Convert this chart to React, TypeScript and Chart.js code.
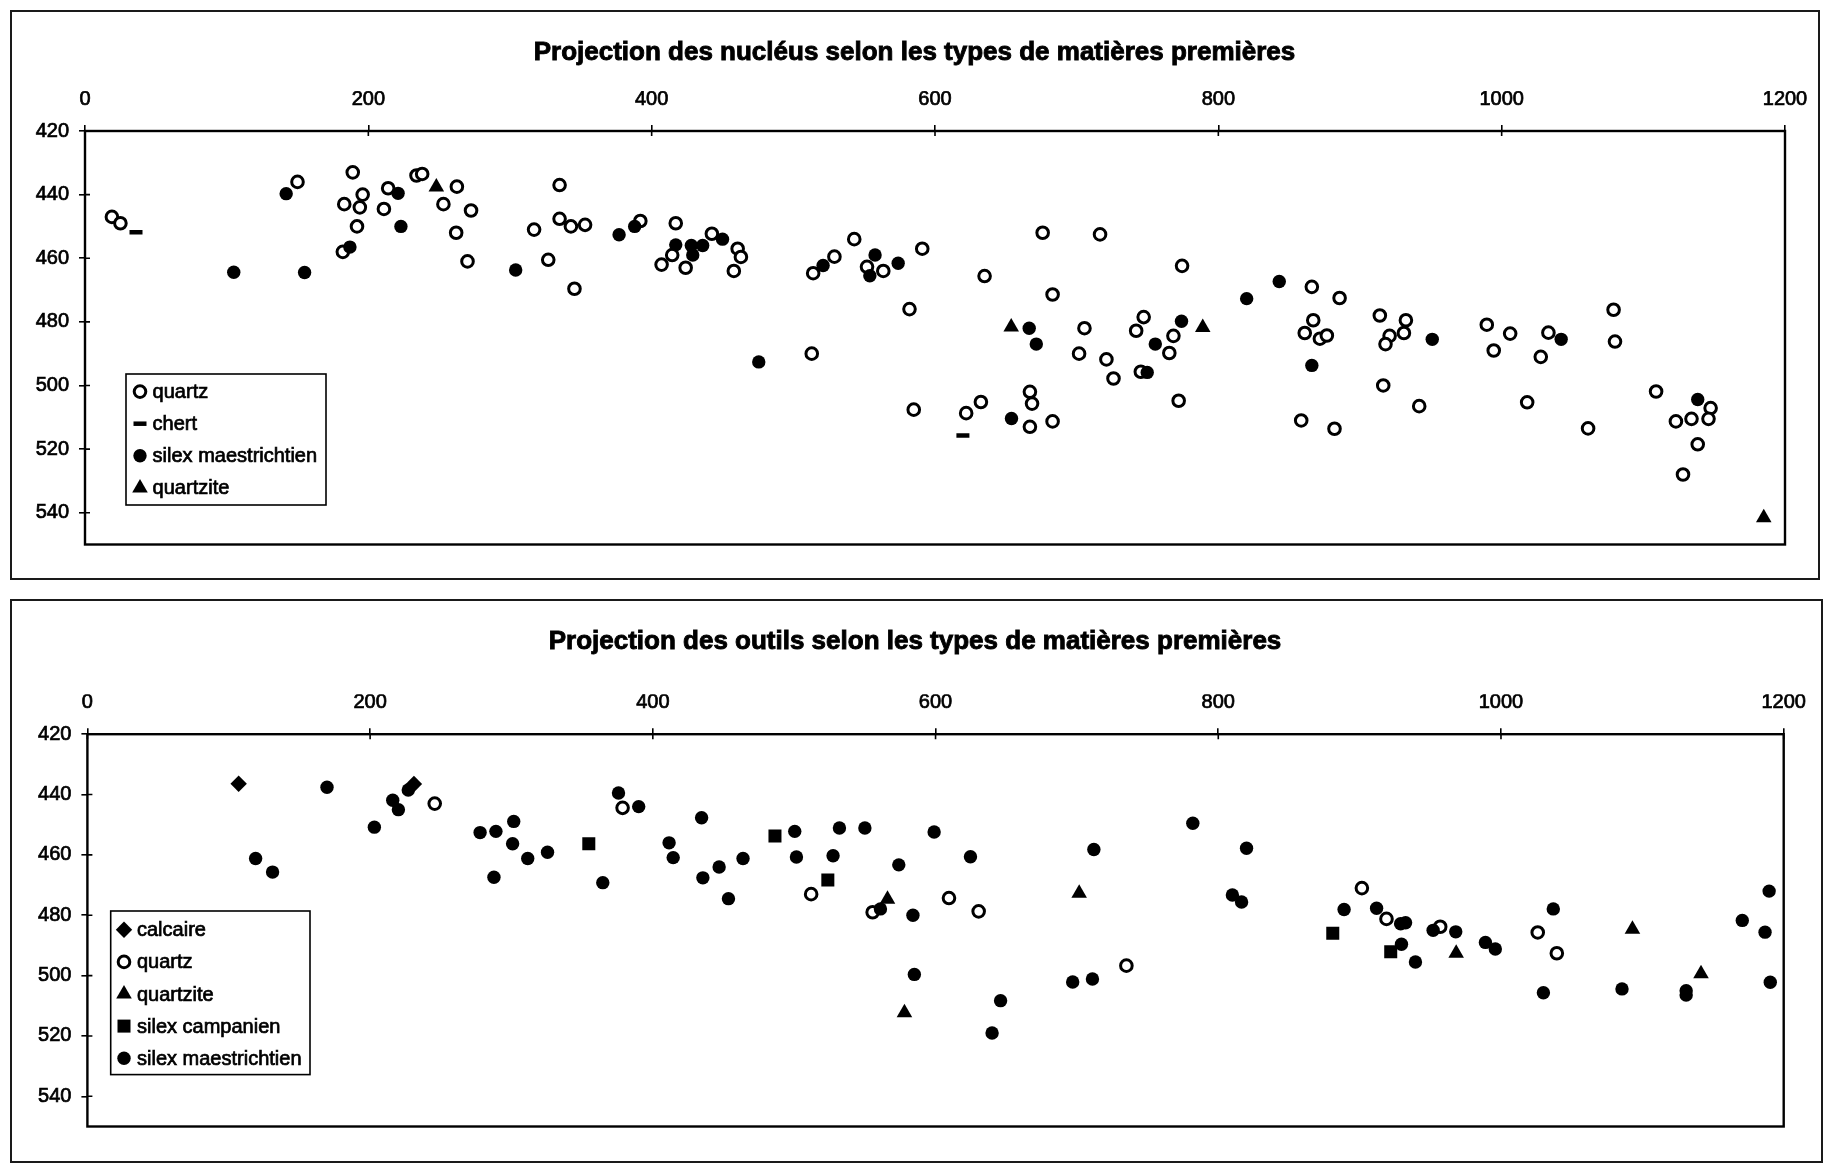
import { useEffect, useRef } from 'react';
import { Chart, registerables } from 'chart.js';

Chart.register(...registerables);

type Pt = [number, number];

// ---------- axes ----------
const xTickValues = [0, 200, 400, 600, 800, 1000, 1200];
const yTickValues = [420, 440, 460, 480, 500, 520, 540];
const xRange = [0, 1200];
const yRange = [420, 550];

const titleNuclei = 'Projection des nucléus selon les types de matières premières';
const titleOutils = 'Projection des outils selon les types de matières premières';

// ---------- nucléus ----------
const nucleiQuartz: Pt[] = [
  [19, 447], [25, 449], [150, 436], [182, 458], [183, 443], [189, 433], [192, 450], [194, 444], [196, 440],
  [211, 444.5], [214, 438], [234, 434], [238, 433.5], [253, 443], [262.5, 437.5], [262, 452], [272.5, 445],
  [270, 461], [317, 451], [327, 460.5], [335, 437], [335, 447.6], [343, 450], [345.5, 469.6], [353, 449.5],
  [392, 448.3], [407, 462], [414.5, 459], [417, 449], [424, 463], [442.5, 452.3], [460.7, 457], [458, 464],
  [463, 459.6], [513, 490], [514, 464.7], [529, 459.5], [543, 454], [552, 462.7], [563.5, 464], [582, 476],
  [585, 507.6], [591, 457], [635, 465.6], [676, 452], [716.5, 452.5], [683, 471.4], [774.4, 462.4], [866, 469],
  [885.6, 472.5], [705.5, 482], [701.7, 490], [721, 491.8], [726, 497.8], [742, 482.8], [747.3, 478.5],
  [745.3, 495.7], [765.4, 489.8], [768.3, 484.4], [772, 504.8], [622, 508.7], [632.4, 505.2], [667, 502],
  [668.5, 505.7], [667, 513], [683, 511.3], [867, 479.5], [861, 483.5], [871.7, 485.3], [876.6, 484.3],
  [858.5, 511], [882, 513.6], [914, 478], [932.4, 479.5], [920.9, 484.4], [918, 487], [931, 483.5], [916.4, 500],
  [941.8, 506.5], [989.5, 480.9], [994.4, 489], [1006, 483.7], [1033, 483.4], [1027.6, 491], [1018, 505.3],
  [1061, 513.5], [1079, 476.2], [1080, 486.2], [1109, 501.9], [1147.5, 507.1], [1146, 510.5], [1134, 510.5],
  [1123, 511.3], [1138.4, 518.5], [1128, 528],
];
const nucleiChert: Pt[] = [[36, 451.8], [619.7, 515.7]];
const nucleiSilexMaes: Pt[] = [
  [105, 464.4], [142, 439.7], [155, 464.5], [187, 456.5], [221, 439.6], [223, 450], [304, 463.7], [377, 452.6],
  [388, 450], [417, 455.8], [428, 456], [429, 459], [436, 456], [450, 454], [475.6, 492.6], [521, 462.3],
  [557.7, 459], [554, 465.5], [574, 461.6], [843, 467.3], [820, 472.7], [666.5, 482], [671.5, 487], [755.5, 487],
  [749.8, 495.9], [774, 479.8], [654, 510.4], [866, 493.7], [951, 485.5], [1042, 485.5], [1138.4, 504.4],
];
const nucleiQuartzite: Pt[] = [[248, 437.6], [653.8, 481.6], [789, 481.8], [1185, 541.6]];

// ---------- outils ----------
const outilsCalcaire: Pt[] = [[107, 436.4], [231, 436.5]];
const outilsQuartz: Pt[] = [
  [245.7, 443], [378.6, 444.4], [512, 473], [555.5, 479], [609.5, 474.3], [630.5, 478.7], [735, 496.7],
  [901.6, 471], [919, 481.2], [957, 483.8], [1026, 485.7], [1039.5, 492.6],
];
const outilsQuartzite: Pt[] = [[566, 474.7], [578, 512.3], [701.6, 472.7], [968.3, 492.6], [1093, 484.6], [1141.5, 499.4]];
const outilsSilexCamp: Pt[] = [[354.7, 456.3], [486.4, 453.7], [523.8, 468.3], [881, 486], [922, 492.1]];
const outilsSilexMaes: Pt[] = [
  [119, 461.2], [131, 465.7], [169.5, 437.6], [203, 450.8], [216, 441.9], [220, 445], [227, 438.5], [277.8, 452.6],
  [289, 452.2], [301.6, 448.9], [300.8, 456.3], [287.6, 467.4], [311.5, 461.2], [325.5, 459.1], [364.6, 469.2],
  [375.7, 439.5], [390, 444], [411.5, 456], [414.4, 460.9], [434.5, 447.7], [435.4, 467.6], [446.9, 464],
  [453.5, 474.5], [463.8, 461.2], [500.4, 452.2], [501.6, 460.7], [527.5, 460.3], [532, 451.1], [550, 451.1],
  [574, 463.3], [561, 477.9], [584, 480], [585, 499.6], [599, 452.4], [624.7, 460.6], [646, 508.3], [640, 519],
  [712, 458.2], [697, 502.1], [711, 501.1], [782, 449.5], [820, 457.8], [810, 473.3], [816.5, 475.6], [889, 478.1],
  [912, 477.7], [932.5, 482.5], [929, 482.8], [929.6, 489.6], [939.5, 495.5], [952, 485], [968, 485.5], [989, 489],
  [996, 491.2], [1037, 477.9], [1030, 505.7], [1085.6, 504.4], [1131, 505], [1131, 506.4], [1170.7, 481.7],
  [1189.7, 472], [1186.8, 485.6], [1190.5, 502.2],
];

// ---------- marker styles ----------
type MarkerStyle = { style: string; r: number; bw: number; fill: string; stroke: string };
const openCircle: MarkerStyle = { style: 'circle', r: 5.8, bw: 3, fill: '#ffffff', stroke: '#000000' };
const dash: MarkerStyle = { style: 'line', r: 6.5, bw: 4.5, fill: '#000000', stroke: '#000000' };
const dot: MarkerStyle = { style: 'circle', r: 6.7, bw: 0, fill: '#000000', stroke: '#000000' };
const tri: MarkerStyle = { style: 'triangle', r: 9, bw: 0, fill: '#000000', stroke: '#000000' };
const diamond: MarkerStyle = { style: 'rectRot', r: 8.2, bw: 0, fill: '#000000', stroke: '#000000' };
const square: MarkerStyle = { style: 'rect', r: 9.2, bw: 0, fill: '#000000', stroke: '#000000' };

const FONT = "'Liberation Sans', Arial, Helvetica, sans-serif";

function drawMarker(ctx: CanvasRenderingContext2D, m: MarkerStyle, x: number, y: number) {
  ctx.save();
  ctx.fillStyle = m.fill;
  ctx.strokeStyle = m.stroke;
  ctx.lineWidth = m.bw;
  ctx.beginPath();
  const r = m.r;
  if (m.style === 'circle') {
    ctx.arc(x, y, r, 0, Math.PI * 2);
  } else if (m.style === 'triangle') {
    for (let i = 0; i < 3; i++) {
      const a = (i * 2 * Math.PI) / 3;
      const px = x + Math.sin(a) * r;
      const py = y - Math.cos(a) * r;
      if (i === 0) ctx.moveTo(px, py); else ctx.lineTo(px, py);
    }
    ctx.closePath();
  } else if (m.style === 'rect') {
    const s = r * Math.SQRT1_2;
    ctx.rect(x - s, y - s, 2 * s, 2 * s);
  } else if (m.style === 'rectRot') {
    ctx.moveTo(x, y - r);
    ctx.lineTo(x + r, y);
    ctx.lineTo(x, y + r);
    ctx.lineTo(x - r, y);
    ctx.closePath();
  } else if (m.style === 'line') {
    ctx.moveTo(x - r, y);
    ctx.lineTo(x + r, y);
  }
  if (m.style !== 'line') ctx.fill();
  if (m.bw > 0) ctx.stroke();
  ctx.restore();
}

const framePlugin = {
  id: 'frame',
  beforeDatasetsDraw(chart: any) {
    const { ctx, chartArea: a, scales } = chart;
    ctx.save();
    ctx.strokeStyle = '#000';
    ctx.lineWidth = 2.4;
    ctx.strokeRect(a.left, a.top, a.right - a.left, a.bottom - a.top);
    ctx.lineWidth = 1.6;
    ctx.beginPath();
    scales.x.ticks.forEach((t: any) => {
      const px = scales.x.getPixelForValue(t.value);
      ctx.moveTo(px, a.top);
      ctx.lineTo(px, a.top + 5);
    });
    scales.y.ticks.forEach((t: any) => {
      const py = scales.y.getPixelForValue(t.value);
      ctx.moveTo(a.left, py);
      ctx.lineTo(a.left + 5, py);
    });
    ctx.stroke();
    ctx.restore();
  },
};

const panelTitlePlugin = {
  id: 'panelTitle',
  afterDraw(chart: any, _args: any, opts: any) {
    const { ctx } = chart;
    ctx.save();
    ctx.font = `bold 26px ${FONT}`;
    ctx.textAlign = 'center';
    ctx.textBaseline = 'middle';
    ctx.fillStyle = '#000';
    ctx.strokeStyle = '#000';
    ctx.lineWidth = 0.9;
    ctx.fillText(opts.text, opts.x, opts.y);
    ctx.strokeText(opts.text, opts.x, opts.y);
    ctx.restore();
  },
};

const boxLegendPlugin = {
  id: 'boxLegend',
  afterDraw(chart: any, _args: any, opts: any) {
    const { ctx } = chart;
    ctx.save();
    ctx.fillStyle = '#fff';
    ctx.fillRect(opts.x, opts.y, opts.w, opts.h);
    ctx.strokeStyle = '#000';
    ctx.lineWidth = 1.6;
    ctx.strokeRect(opts.x, opts.y, opts.w, opts.h);
    ctx.font = `20px ${FONT}`;
    ctx.textBaseline = 'middle';
    ctx.textAlign = 'left';
    chart.data.datasets.forEach((ds: any, i: number) => {
      const cy = opts.y + opts.first + i * opts.gap;
      drawMarker(ctx, ds.marker, opts.x + opts.markerDx, cy);
      ctx.fillStyle = '#000';
      ctx.strokeStyle = '#000';
      ctx.lineWidth = 0.7;
      ctx.fillText(ds.label, opts.x + opts.textDx, cy + 1);
      ctx.strokeText(ds.label, opts.x + opts.textDx, cy + 1);
    });
    ctx.restore();
  },
};

function makeDataset(label: string, pts: Pt[], m: MarkerStyle, order: number) {
  return {
    label,
    data: pts.map(([x, y]) => ({ x, y })),
    order,
    marker: m,
    showLine: false,
    pointStyle: m.style,
    pointRadius: m.r,
    pointHoverRadius: m.r,
    pointBorderWidth: m.bw,
    pointHoverBorderWidth: m.bw,
    pointBackgroundColor: m.fill,
    pointBorderColor: m.stroke,
    backgroundColor: m.fill,
    borderColor: m.stroke,
  };
}

const tickFont = { family: FONT, size: 20 };

function makeOptions(cfg: any) {
  return {
    responsive: false,
    animation: false,
    events: [],
    layout: { padding: cfg.padding },
    plugins: {
      legend: { display: false },
      tooltip: { enabled: false },
      title: { display: false },
      panelTitle: cfg.title,
      boxLegend: cfg.legend,
    },
    scales: {
      x: {
        type: 'linear',
        position: 'top',
        min: xRange[0],
        max: xRange[1],
        afterBuildTicks: (s: any) => { s.ticks = xTickValues.map((v) => ({ value: v })); },
        afterFit: (s: any) => { s.height = 40; },
        grid: { drawOnChartArea: false, drawTicks: true, tickLength: 6, color: '#000', lineWidth: 1.6 },
        border: { display: false },
        ticks: {
          color: '#000', font: tickFont, padding: 14, maxRotation: 0, autoSkip: false,
          textStrokeColor: '#000', textStrokeWidth: 0.7,
          callback: (v: any) => String(v),
        },
      },
      y: {
        type: 'linear',
        reverse: true,
        min: yRange[0],
        max: yRange[1],
        afterBuildTicks: (s: any) => { s.ticks = yTickValues.map((v) => ({ value: v })); },
        afterFit: (s: any) => { s.width = cfg.yWidth; },
        grid: { drawOnChartArea: false, drawTicks: true, tickLength: 6, color: '#000', lineWidth: 1.6 },
        border: { display: false },
        ticks: {
          color: '#000', font: tickFont, padding: 10, autoSkip: false,
          textStrokeColor: '#000', textStrokeWidth: 0.7,
          callback: (v: any) => String(v),
        },
      },
    },
  };
}

export default function App() {
  const topRef = useRef<HTMLCanvasElement | null>(null);
  const botRef = useRef<HTMLCanvasElement | null>(null);

  useEffect(() => {
    Chart.defaults.font.family = FONT;
    const top = new Chart(topRef.current as HTMLCanvasElement, {
      type: 'scatter',
      data: {
        datasets: [
          makeDataset('quartz', nucleiQuartz, openCircle, 4),
          makeDataset('chert', nucleiChert, dash, 3),
          makeDataset('silex maestrichtien', nucleiSilexMaes, dot, 2),
          makeDataset('quartzite', nucleiQuartzite, tri, 1),
        ] as any,
      },
      options: makeOptions({
        padding: { left: 20, right: 41, top: 91, bottom: 45.5 },
        yWidth: 65,
        title: { text: titleNuclei, x: 914.5, y: 53 },
        legend: { x: 126, y: 374, w: 200, h: 131, first: 17.6, gap: 32.1, markerDx: 14, textDx: 26.6 },
      }) as any,
      plugins: [framePlugin, panelTitlePlugin, boxLegendPlugin],
    });
    const bot = new Chart(botRef.current as HTMLCanvasElement, {
      type: 'scatter',
      data: {
        datasets: [
          makeDataset('calcaire', outilsCalcaire, diamond, 5),
          makeDataset('quartz', outilsQuartz, openCircle, 4),
          makeDataset('quartzite', outilsQuartzite, tri, 3),
          makeDataset('silex campanien', outilsSilexCamp, square, 2),
          makeDataset('silex maestrichtien', outilsSilexMaes, dot, 1),
        ] as any,
      },
      options: makeOptions({
        padding: { left: 20, right: 42.3, top: 104.2, bottom: 37.5 },
        yWidth: 67.4,
        title: { text: titleOutils, x: 915, y: 51.4 },
        legend: { x: 110.7, y: 321, w: 199.3, h: 163.6, first: 18.8, gap: 32.1, markerDx: 13.3, textDx: 26.3 },
      }) as any,
      plugins: [framePlugin, panelTitlePlugin, boxLegendPlugin],
    });
    return () => {
      top.destroy();
      bot.destroy();
    };
  }, []);

  return (
    <div style={{ position: 'absolute', left: 0, top: 0, width: 1826, height: 1164, background: '#fff', overflow: 'hidden' }}>
      <div style={{ position: 'absolute', left: 10, top: 10, width: 1810, height: 570, border: '2px solid #1a1a1a', boxSizing: 'border-box' }} />
      <div style={{ position: 'absolute', left: 10, top: 599, width: 1813, height: 564, border: '2px solid #1a1a1a', boxSizing: 'border-box' }} />
      <canvas ref={topRef} width={1826} height={590} style={{ position: 'absolute', left: 0, top: 0, width: 1826, height: 590 }} />
      <canvas ref={botRef} width={1826} height={574} style={{ position: 'absolute', left: 0, top: 590, width: 1826, height: 574 }} />
    </div>
  );
}
